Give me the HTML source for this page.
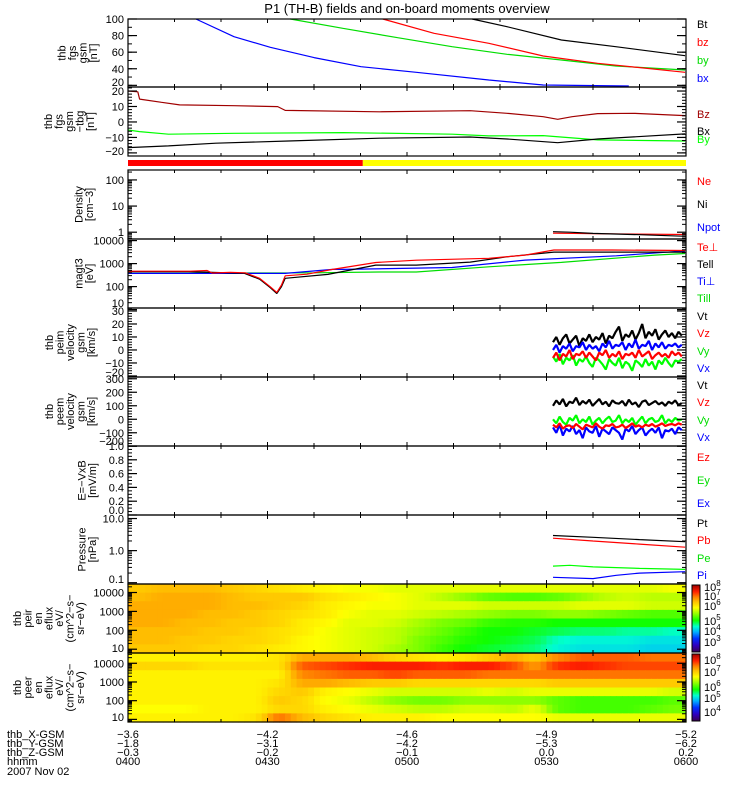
<!DOCTYPE html>
<html><head><meta charset="utf-8">
<style>
html,body{margin:0;padding:0;background:#fff;}
svg{display:block;font-family:"Liberation Sans",sans-serif;}
text{font-size:11px;}
</style></head>
<body>
<svg id="chart" width="750" height="800" viewBox="0 0 750 800" xmlns="http://www.w3.org/2000/svg">
<defs>
<linearGradient id="cbar" x1="0" y1="1" x2="0" y2="0">
<stop offset="0" stop-color="#3c0050"/><stop offset="0.1" stop-color="#3000c0"/><stop offset="0.2" stop-color="#0030ff"/>
<stop offset="0.3" stop-color="#00b0ff"/><stop offset="0.38" stop-color="#00ffd0"/><stop offset="0.47" stop-color="#10ff00"/>
<stop offset="0.58" stop-color="#a0ff00"/><stop offset="0.66" stop-color="#ffff00"/><stop offset="0.75" stop-color="#ffc000"/>
<stop offset="0.82" stop-color="#ff8000"/><stop offset="0.9" stop-color="#ff2000"/><stop offset="1" stop-color="#a00000"/>
</linearGradient>
</defs>
<text x="407" y="13" text-anchor="middle" style="font-size:13px">P1 (TH-B) fields and on-board moments overview</text>
</svg>
<script>
// ---------- DATA ----------
const bxT=[14.6,22.8,30.6,40,50.1,62,77.6,89.3,107.7];
const bxV=[100,78.7,65.9,53.4,42.5,35.7,26.4,20.4,19.2];
const byT=[34.9,46.2,58,69.7,81.5,93.2,104.9,119.8];
const byV=[100,88.8,77.5,66.6,57.4,50.6,43.3,38.5];
const bzT=[54.8,65.8,77.6,89.3,101,119.8];
const bzV=[100,82.7,70.7,55.4,46.6,35.7];
const btT=[74,81.5,93.2,104.9,119.8];
const btV=[100,90.7,74.7,66.6,55.8];
const dBzT=[0,2.1,2.5,7.2,11.1,22.8,32.2,33.8,54.1,73.6,81.5,89.3,92.4,95.5,101,108.8,119.8];
const dBzV=[20,19.5,14.8,12.7,11,10.5,9.9,7.5,6.6,7.3,5.6,3.4,1.7,3.4,5.4,5.6,4.1];
const dByT=[0,2.5,8.7,22.8,46.3,69.7,77.6,89.3,101,119.8];
const dByV=[-5.2,-6.2,-7.9,-7.3,-6.9,-7.9,-9,-8.8,-11.6,-12.3];
const dBxT=[0,8.7,18.9,34.5,54.1,73.6,81.5,92.4,101,119.8];
const dBxV=[-16.6,-15.5,-13.7,-12.3,-10.5,-9.7,-11,-13.4,-11,-7.7];
const modeBreak=50.5;
const niT=[91.4,95,100,110,120];
const niV=[1.05,1.0,0.9,0.8,0.7];
const neT=[91.4,100,120];
const neV=[0.92,0.88,0.82];
const teT=[0,13.4,17,18.1,22,25.2,28.3,30.6,32,33,33.8,38.5,44,53.3,62,77.6,85.4,91.6,104.1,119.8];
const teV=[470,470,500,390,420,400,230,98,56,117,295,347,560,1120,1410,1700,2340,3890,3890,3720];
const tparT=[0,13,25,28.3,30.6,32,33,33.8,43,53.3,62,73.6,81.5,91.6,119.8];
const tparV=[450,450,380,210,90,50,100,230,340,860,860,1160,1970,3160,3160];
const tiT=[0,33.8,44,46.3,69.7,85.4,105,119.8];
const tiV=[375,375,560,560,680,1420,2180,3600];
const tipT=[0,40,54,62,77.6,93.2,113.3,119.8];
const tipV=[375,400,430,430,730,1130,2340,2760];
const vStart=91.4, vStep=0.71;
const v1t=[6,10,4,9,12,5,8,11,3,9,7,12,6,10,8,13,5,11,9,14,18,7,12,10,15,8,13,20,9,14,11,16,8,12,15,10,13,9,14,11];
const v1x=[0,4,-2,3,1,5,-1,3,2,6,0,4,1,3,-1,5,2,7,1,4,3,6,0,5,2,8,1,4,3,7,0,5,2,6,1,4,3,5,2,4];
const v1z=[-6,-2,-8,-3,-5,0,-7,-3,-4,-1,-6,-2,-5,-8,-2,-4,0,-6,-3,-5,-1,-7,-3,-4,-2,-6,0,-5,-3,-1,-7,-4,-2,-5,-3,-6,-1,-4,-2,-5];
const v1y=[-5,-9,-3,-11,-6,-8,-4,-12,-7,-9,-5,-10,-13,-6,-8,-11,-15,-7,-10,-12,-6,-14,-9,-11,-16,-8,-10,-13,-7,-12,-9,-15,-8,-11,-6,-10,-13,-8,-9,-7];
const v2t=[100,140,110,150,95,130,120,160,105,135,115,145,100,125,150,110,130,95,140,120,115,135,100,145,110,125,90,130,140,105,120,135,110,125,100,130,115,140,105,120];
const v2x=[-60,-100,-40,-120,-70,-90,-50,-110,-80,-140,-60,-90,-100,-50,-130,-70,-90,-110,-60,-80,-100,-150,-70,-90,-50,-110,-80,-60,-120,-90,-70,-100,-60,-140,-80,-90,-70,-110,-60,-80];
const v2y=[0,-30,20,-20,-40,10,-10,30,-30,0,-20,20,-40,-10,10,-30,0,20,-20,-10,30,-30,0,-20,10,-40,-10,20,-30,0,10,-20,-10,30,-30,0,-20,10,-10,0];
const v2z=[-40,-60,-30,-70,-50,-45,-65,-35,-55,-75,-40,-50,-60,-30,-55,-70,-45,-50,-35,-60,-55,-40,-65,-50,-30,-55,-45,-60,-40,-50,-35,-55,-45,-30,-50,-40,-35,-45,-30,-40];
const ptT=[91.4,100,110,119.8]; const ptV=[2.95,2.6,2.2,1.9];
const pbT=[91.4,100,110,119.8]; const pbV=[2.44,2.0,1.6,1.28];
const peT=[91.4,95,100,110,119.8]; const peV=[0.33,0.35,0.31,0.28,0.26];
const piT=[91.4,100,105,110,119.8]; const piV=[0.147,0.134,0.17,0.2,0.22];
const ionRows=[
[6.6,6.7,6.7,6.7,6.6,6.5,6.4,6.3,6.2,6.1,6.1,6.0,6.0,6.0,6.0,6.0,6.0,6.0,6.0,6.0,6.0,6.0,6.0,6.1],
[6.7,6.8,6.8,6.8,6.7,6.6,6.6,6.6,6.4,6.3,6.2,6.1,6.0,5.8,5.6,5.4,5.3,5.3,5.4,5.6,5.8,5.9,5.8,5.8],
[6.8,6.8,6.8,6.8,6.7,6.7,6.6,6.5,6.3,6.2,6.1,6.1,6.0,6.0,6.0,5.9,5.9,5.9,5.9,6.0,6.0,6.0,5.9,5.9],
[6.8,6.8,6.8,6.7,6.7,6.6,6.5,6.4,6.3,6.1,6.0,6.0,5.9,5.8,5.7,5.6,5.5,5.5,5.6,5.6,5.5,5.4,5.3,5.3],
[6.8,6.8,6.7,6.7,6.6,6.6,6.5,6.3,6.2,6.0,6.0,5.9,5.7,5.5,5.4,5.2,5.1,5.1,5.0,5.0,5.0,5.0,5.0,5.0],
[6.7,6.7,6.7,6.6,6.6,6.5,6.4,6.3,6.1,6.0,5.9,5.8,5.6,5.4,5.2,5.0,5.0,4.9,4.8,4.7,4.7,4.6,4.6,4.5],
[6.7,6.7,6.6,6.6,6.5,6.5,6.4,6.2,6.1,6.0,5.9,5.8,5.5,5.3,5.1,5.0,4.9,4.8,4.5,4.4,4.4,4.4,4.3,4.3],
[6.6,6.6,6.6,6.5,6.5,6.4,6.3,6.2,6.1,6.0,5.9,5.7,5.5,5.2,5.0,4.9,4.8,4.7,4.4,4.3,4.3,4.3,4.2,4.2]];
const eleRows=[
[6.8,6.8,6.8,6.8,6.8,6.8,6.9,7.3,7.3,7.3,7.2,7.0,6.9,6.8,6.9,7.1,7.3,7.1,7.5,7.7,7.7,7.7,7.6,7.6],
[7.0,7.0,7.0,6.9,6.9,6.9,6.9,7.7,7.8,7.9,8.0,8.0,8.0,7.9,8.0,8.0,7.8,7.4,7.9,8.0,7.9,7.8,7.8,7.8],
[6.8,6.8,6.8,6.8,6.8,6.8,6.8,7.5,7.6,7.7,7.7,7.8,7.7,7.7,7.7,7.6,7.6,7.6,7.6,7.6,7.6,7.6,7.6,7.6],
[6.8,6.8,6.8,6.8,6.8,6.8,6.9,7.3,7.3,7.2,7.1,7.1,7.0,7.0,7.0,7.0,7.0,7.0,7.1,7.1,7.1,7.1,7.1,7.1],
[6.8,6.8,6.8,6.8,6.8,6.8,7.0,7.1,6.8,6.7,6.6,6.5,6.5,6.5,6.5,6.6,6.5,6.6,6.6,6.6,6.6,6.6,6.6,6.5],
[6.8,6.8,6.8,6.8,6.8,6.8,7.1,7.0,6.7,6.6,6.4,6.2,6.1,6.1,6.2,6.2,6.2,6.2,6.0,5.9,5.9,5.9,5.9,6.0],
[6.7,6.7,6.7,6.8,6.8,6.8,7.0,7.0,6.8,6.7,6.6,6.5,6.4,6.4,6.5,6.5,6.4,6.6,6.0,5.9,5.9,5.9,6.0,6.1],
[6.8,6.8,6.8,6.8,6.8,6.9,7.6,7.2,7.0,6.9,6.8,6.8,6.8,6.7,6.7,6.7,6.7,6.7,6.6,6.6,6.6,6.6,6.6,6.6]];
const specStep=5;
const tickTimes=[0,30,60,90,120];
const xGsm=["\u22123.6","\u22124.2","\u22124.6","\u22124.9","\u22125.2"];
const yGsm=["\u22121.8","\u22123.1","\u22124.2","\u22125.3","\u22126.2"];
const zGsm=["\u22120.3","\u22120.2","\u22120.1","0.0","0.2"];
const hhmm=["0400","0430","0500","0530","0600"];

// ---------- RENDER ----------
const svg=document.getElementById('chart');
const NS='http://www.w3.org/2000/svg';
const X0=128,X1=686,TMAX=120;
function xs(t){return X0+(t/TMAX)*(X1-X0);}
function mk(tag,attrs,parent){const e=document.createElementNS(NS,tag);for(const k in attrs)e.setAttribute(k,attrs[k]);(parent||svg).appendChild(e);return e;}

const panels=[
 {id:'fgs-gsm',top:19,bot:87,log:false,lo:18,hi:100,labels:[20,40,60,80,100],fmt:v=>String(v),minor:10,title:['thb','fgs','gsm','[nT]'],tx:94},
 {id:'fgs-gsm-tbg',top:87,bot:156,log:false,lo:-22,hi:22.6,labels:[-20,-10,0,10,20],fmt:v=>String(v).replace('-','\u2212'),minor:2,title:['thb','fgs','gsm','\u2212tbg','[nT]'],tx:91},
 {id:'density',top:170,bot:239,log:true,lo:-0.26,hi:2.38,labels:[1,10,100],fmt:v=>String(v),title:['Density','[cm\u22123]'],tx:90},
 {id:'temperature',top:239,bot:308,log:true,lo:1.07,hi:4.07,labels:[10,100,1000,10000],fmt:v=>String(v),title:['magt3','[eV]'],tx:90},
 {id:'peim-velocity',top:308,bot:377,log:false,lo:-20.8,hi:32.3,labels:[-20,-10,0,10,20,30],fmt:v=>String(v).replace('-','\u2212'),minor:2,title:['thb','peim','velocity','gsm','[km/s]'],tx:92},
 {id:'peem-velocity',top:377,bot:446,log:false,lo:-198,hi:313,labels:[-200,-100,0,100,200,300],fmt:v=>String(v).replace('-','\u2212'),minor:20,title:['thb','peem','velocity','gsm','[km/s]'],tx:92},
 {id:'efield',top:446,bot:515,log:false,lo:0,hi:1,labels:[0,0.2,0.4,0.6,0.8,1.0],fmt:v=>v.toFixed(1),minor:0.05,title:['E=\u2212VxB','[mV/m]'],tx:93},
 {id:'pressure',top:515,bot:584,log:true,lo:-1.04,hi:1.11,labels:[0.1,1,10],fmt:v=>v.toFixed(1),title:['Pressure','[nPa]'],tx:93},
 {id:'ion-spectrogram',top:584,bot:653,log:true,lo:0.8,hi:4.45,labels:[10,100,1000,10000],fmt:v=>String(v),title:['thb','peir','en','eflux','eV/','(cm^2\u2212s\u2212','sr\u2212eV)'],tx:81},
 {id:'electron-spectrogram',top:653,bot:722,log:true,lo:0.86,hi:4.55,labels:[10,100,1000,10000],fmt:v=>String(v),title:['thb','peer','en','eflux','eV/','(cm^2\u2212s\u2212','sr\u2212eV)'],tx:81}
];
function ys(p,v){const a=p.log?Math.log10(v):v;return p.bot-(a-p.lo)/(p.hi-p.lo)*(p.bot-p.top);}

function line(p,T,V,color,name,w){
  const pts=T.map((t,i)=>xs(t).toFixed(1)+','+Math.max(p.top,Math.min(p.bot,ys(p,V[i]))).toFixed(1)).join(' ');
  const e=mk('polyline',{points:pts,fill:'none',stroke:color,'stroke-width':w||1.2,'stroke-linejoin':'bevel'});
  
  
}
function vline(p,arr,color,name){line(p,arr.map((_,i)=>vStart+i*vStep),arr,color,name,2.2);}

const cmapStops=[[0,[60,0,80]],[0.1,[48,0,192]],[0.2,[0,48,255]],[0.3,[0,176,255]],[0.38,[0,255,208]],[0.47,[16,255,0]],[0.58,[160,255,0]],[0.66,[255,255,0]],[0.75,[255,192,0]],[0.82,[255,128,0]],[0.9,[255,32,0]],[1,[160,0,0]]];
function cmap(f){f=Math.max(0,Math.min(1,f));for(let i=1;i<cmapStops.length;i++){const a=cmapStops[i-1],b=cmapStops[i];if(f<=b[0]){const u=(f-a[0])/(b[0]-a[0]);const c=a[1].map((x,k)=>Math.round(x+(b[1][k]-x)*u));return 'rgb('+c.join(',')+')';}}return 'rgb(160,0,0)';}
// render cells with sub-cell colour blending between neighbouring data cells (display smoothing only)
function spectro(p,rows,zlo,zhi,name){
  const g=mk('g',{});
  
  
  const nr=rows.length,h=(p.bot-p.top)/nr,SUB=4;
  rows.forEach((row,r)=>row.forEach((v,c)=>{
    const x=xs(c*specStep),w=xs((c+1)*specStep)-x;
    for(let s=0;s<SUB;s++){
      const u=(s+0.5)/SUB-0.5;
      const nb=u<0?row[Math.max(0,c-1)]:row[Math.min(row.length-1,c+1)];
      const val=v+(nb-v)*Math.abs(u)*0.9;
      const cell=mk('rect',{x:(x+s*w/SUB).toFixed(2),y:(p.top+r*h).toFixed(2),width:(w/SUB+0.6).toFixed(2),height:(h+0.6).toFixed(2),fill:cmap((val-zlo)/(zhi-zlo))},g);
      
      
    }
  }));
}

spectro(panels[8],ionRows,2.2,8.17,'ion-spectrogram-cells');
spectro(panels[9],eleRows,3.2,8.5,'electron-spectrogram-cells');

const mb1=mk('rect',{x:X0,y:160,width:xs(modeBreak)-X0,height:6,fill:'#ff0000'});


const mb2=mk('rect',{x:xs(modeBreak),y:160,width:X1-xs(modeBreak),height:6,fill:'#ffff00'});



const P=panels;
line(P[0],bxT,bxV,'#0000ff','series-bx');line(P[0],byT,byV,'#00dd00','series-by');line(P[0],bzT,bzV,'#ff0000','series-bz');line(P[0],btT,btV,'#000','series-bt');
line(P[1],dBzT,dBzV,'#a00000','series-dbz');line(P[1],dByT,dByV,'#00ff00','series-dby');line(P[1],dBxT,dBxV,'#000','series-dbx');
line(P[2],neT,neV,'#ff0000','series-ne');line(P[2],niT,niV,'#000','series-ni');
line(P[3],tipT,tipV,'#00dd00','series-ti-par');line(P[3],tiT,tiV,'#0000ff','series-ti-perp');line(P[3],tparT,tparV,'#000','series-te-par');line(P[3],teT,teV,'#ff0000','series-te-perp');
vline(P[4],v1t,'#000','series-peim-vt');vline(P[4],v1x,'#0000ff','series-peim-vx');vline(P[4],v1y,'#00ff00','series-peim-vy');vline(P[4],v1z,'#ff0000','series-peim-vz');
vline(P[5],v2t,'#000','series-peem-vt');vline(P[5],v2x,'#0000ff','series-peem-vx');vline(P[5],v2y,'#00ff00','series-peem-vy');vline(P[5],v2z,'#ff0000','series-peem-vz');
line(P[7],ptT,ptV,'#000','series-pt');line(P[7],pbT,pbV,'#ff0000','series-pb');line(P[7],peT,peV,'#00ff00','series-pe');line(P[7],piT,piV,'#0000ff','series-pi');

panels.forEach(p=>{
  const g=mk('g',{});
  
  
  mk('rect',{x:X0,y:p.top,width:X1-X0,height:p.bot-p.top,fill:'none',stroke:'#000','stroke-width':1.2},g);
  for(let t=10;t<TMAX;t+=10){const x=xs(t);const L=(t%30===0)?4:3;
    mk('line',{x1:x,y1:p.top,x2:x,y2:p.top+L,stroke:'#000'},g);mk('line',{x1:x,y1:p.bot,x2:x,y2:p.bot-L,stroke:'#000'},g);}
  let minors=[];
  if(p.log){for(let d=Math.floor(p.lo);d<=Math.ceil(p.hi);d++)for(let m=2;m<=9;m++)minors.push(m*Math.pow(10,d));}
  else{for(let v=Math.ceil(p.lo/p.minor)*p.minor;v<=p.hi;v+=p.minor)minors.push(v);}
  minors.forEach(v=>{const y=ys(p,v);if(y<p.top||y>p.bot)return;
    mk('line',{x1:X0,y1:y,x2:X0+4,y2:y,stroke:'#000'},g);mk('line',{x1:X1,y1:y,x2:X1-4,y2:y,stroke:'#000'},g);});
  p.labels.forEach(v=>{const y=ys(p,v);
    mk('line',{x1:X0,y1:y,x2:X0+9,y2:y,stroke:'#000','stroke-width':1.2},g);mk('line',{x1:X1,y1:y,x2:X1-9,y2:y,stroke:'#000','stroke-width':1.2},g);
    const tl=mk('text',{x:124,y:Math.max(p.top+4,Math.min(p.bot-1,y+4)),'text-anchor':'end'},g);tl.textContent=p.fmt(v);});
  const n=p.title.length,cy=(p.top+p.bot)/2;
  p.title.forEach((s,i)=>{const x=p.tx-(n-1-i)*10.5;
    const tt=mk('text',{transform:'translate('+x+','+cy+') rotate(-90)','text-anchor':'middle','dominant-baseline':'middle'},g);tt.textContent=s;});
});

const legends=[['Bt',24,'#000'],['bz',42,'#ff0000'],['by',60,'#00dd00'],['bx',78,'#0000ff'],
['Bz',114,'#a00000'],['Bx',131,'#000'],['By',139,'#00ff00'],
['Ne',181,'#ff0000'],['Ni',204,'#000'],['Npot',227,'#0000ff'],
['Te\u22a5',247,'#ff0000'],['Tell',264,'#000'],['Ti\u22a5',281,'#0000ff'],['Till',298,'#00dd00'],
['Vt',316,'#000'],['Vz',333,'#ff0000'],['Vy',351,'#00dd00'],['Vx',368,'#0000ff'],
['Vt',385,'#000'],['Vz',402,'#ff0000'],['Vy',420,'#00dd00'],['Vx',437,'#0000ff'],
['Ez',457,'#ff0000'],['Ey',480,'#00dd00'],['Ex',503,'#0000ff'],
['Pt',523,'#000'],['Pb',540,'#ff0000'],['Pe',558,'#00dd00'],['Pi',575,'#0000ff']];
legends.forEach(l=>{const e=mk('text',{x:697,y:l[1]+4,fill:l[2]});e.textContent=l[0];
  
  });

function cbar(top,bot,labels,name){
  const g=mk('g',{});
  
  
  mk('rect',{x:692,y:top,width:8,height:bot-top,fill:'url(#cbar)',stroke:'#000','stroke-width':1},g);
  labels.forEach(l=>{const t=mk('text',{x:704,y:l[1]+4},g);t.textContent='10';
    const s=mk('tspan',{dy:-5,style:'font-size:8px'},t);s.textContent=l[0];});
}
cbar(585,652,[['8',587],['7',596],['6',606],['5',621],['4',631],['3',642]],'ion-colorbar');
cbar(654,721,[['8',660],['7',672],['6',687],['5',698],['4',712]],'electron-colorbar');

const rows=[['thb_X-GSM',xGsm,738],['thb_Y-GSM',yGsm,747],['thb_Z-GSM',zGsm,756],['hhmm',hhmm,765]];
rows.forEach(r=>{const lab=mk('text',{x:7,y:r[2]});lab.textContent=r[0];
  
  
  r[1].forEach((s,i)=>{const e=mk('text',{x:xs(tickTimes[i]),y:r[2],'text-anchor':'middle'});e.textContent=s;
    
    });});
const dt=mk('text',{x:7,y:775});dt.textContent='2007 Nov 02';


</script>
</body></html>
